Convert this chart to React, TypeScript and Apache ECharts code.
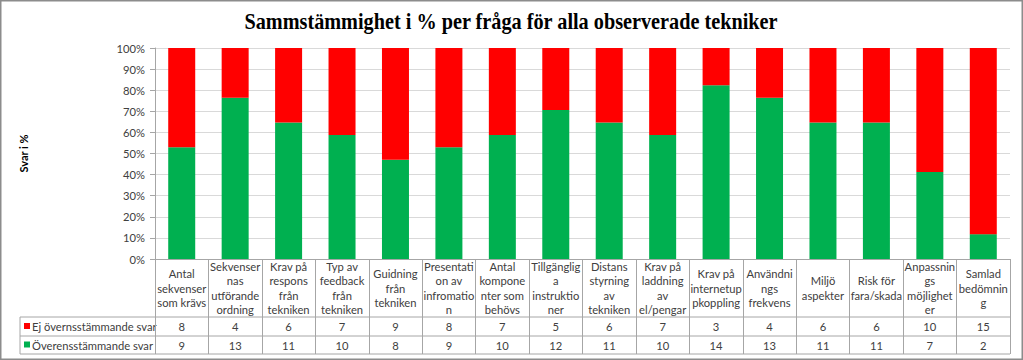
import React, { useEffect, useRef } from "react";
import * as echarts from "echarts";

const chartTitle = "Sammstämmighet i % per fråga för alla observerade tekniker";
const yAxisTitle = "Svar i %";
const categories = [
  "Antal\nsekvenser\nsom krävs",
  "Sekvenser\nnas\nutförande\nordning",
  "Krav på\nrespons\nfrån\ntekniken",
  "Typ av\nfeedback\nfrån\ntekniken",
  "Guidning\nfrån\ntekniken",
  "Presentati\non av\ninfromatio\nn",
  "Antal\nkompone\nnter som\nbehövs",
  "Tillgänglig\na\ninstruktio\nner",
  "Distans\nstyrning\nav\ntekniken",
  "Krav på\nladdning\nav\nel/pengar",
  "Krav på\ninternetup\npkoppling",
  "Användni\nngs\nfrekvens",
  "Miljö\naspekter",
  "Risk för\nfara/skada",
  "Anpassnin\ngs\nmöjlighet\ner",
  "Samlad\nbedömnin\ng",
];
const seriesNames = ["Ej övernsstämmande svar", "Överensstämmande svar"];
const ejCounts = [8, 4, 6, 7, 9, 8, 7, 5, 6, 7, 3, 4, 6, 6, 10, 15];
const overensCounts = [9, 13, 11, 10, 8, 9, 10, 12, 11, 10, 14, 13, 11, 11, 7, 2];

export default function App() {
  const ref = useRef<HTMLDivElement>(null);
  useEffect(() => {
    document.body.style.margin = "0";
    const chart = echarts.init(ref.current!, null, { renderer: "svg" });
    const totals = ejCounts.map((v, i) => v + overensCounts[i]);
    const pctOk = overensCounts.map((v, i) => (v / totals[i]) * 100);
    const pctEj = ejCounts.map((v, i) => (v / totals[i]) * 100);
    const font = "Lato, 'Noto Sans', sans-serif";
    const txt = "#404040";
    const border = "#a6a6a6";
    const fs = 11.2;
    const L = 155, R = 1010, T = 48, B = 259;
    const tableLeft = 20;
    const rows = [317, 336, 354];
    const labelBase = {
      interval: 0,
      verticalAlign: "middle" as const,
      fontSize: fs,
      color: txt,
      fontFamily: font,
      hideOverlap: false,
    };
    const hLines = rows.map((y) => ({
      type: "line",
      shape: { x1: tableLeft, y1: y, x2: R, y2: y },
      style: { stroke: border, lineWidth: 1 },
      silent: true,
    }));
    chart.setOption({
      animation: false,
      backgroundColor: "#fff",
      grid: { left: L, right: 1023 - R, top: T, bottom: 360 - B, containLabel: false },
      xAxis: [
        {
          type: "category",
          data: categories,
          position: "bottom",
          axisLine: { show: true, lineStyle: { color: border } },
          axisTick: { show: true, length: rows[2] - B, interval: 0, lineStyle: { color: border } },
          axisLabel: { ...labelBase, margin: 29, lineHeight: 14.5 },
        },
        {
          type: "category",
          data: ejCounts.map(String),
          position: "bottom",
          offset: 0,
          axisLine: { show: false },
          axisTick: { show: false },
          axisLabel: { ...labelBase, margin: (rows[0] + rows[1]) / 2 - B },
        },
        {
          type: "category",
          data: overensCounts.map(String),
          position: "bottom",
          offset: 0,
          axisLine: { show: false },
          axisTick: { show: false },
          axisLabel: { ...labelBase, margin: (rows[1] + rows[2]) / 2 - B },
        },
      ],
      yAxis: {
        type: "value",
        min: 0,
        max: 100,
        interval: 10,
        axisLine: { show: true, lineStyle: { color: border } },
        axisTick: { show: true, length: 5, lineStyle: { color: border } },
        axisLabel: { formatter: "{value}%", margin: 10, fontSize: fs, color: txt, fontFamily: font },
        splitLine: { show: true, lineStyle: { color: "#d9d9d9" } },
        name: yAxisTitle,
        nameLocation: "middle",
        nameGap: L - 29,
        nameRotate: 90,
        nameTextStyle: { fontWeight: "bold", fontSize: 11, fontFamily: font, color: "#000" },
      },
      series: [
        {
          name: seriesNames[1],
          type: "bar",
          stack: "total",
          data: pctOk,
          barWidth: 27,
          itemStyle: { color: "#00B050" },
        },
        {
          name: seriesNames[0],
          type: "bar",
          stack: "total",
          data: pctEj,
          barWidth: 27,
          itemStyle: { color: "#FF0000" },
        },
      ],
      graphic: [
        {
          type: "rect",
          shape: { x: 0.75, y: 0.75, width: 1021.5, height: 358.5 },
          style: { fill: "none", stroke: "#8c8c8c", lineWidth: 1.5 },
          silent: true,
        },
        {
          type: "text",
          x: 511,
          y: 22,
          scaleX: 0.88,
          style: {
            text: chartTitle,
            fontFamily: "'Liberation Serif', 'Times New Roman', serif",
            fontWeight: "bold",
            fontSize: 23,
            fill: "#000",
            align: "center",
            verticalAlign: "middle",
            textAlign: "center",
            textVerticalAlign: "middle",
          },
        },
        ...hLines,
        {
          type: "line",
          shape: { x1: tableLeft, y1: rows[0], x2: tableLeft, y2: rows[2] },
          style: { stroke: border, lineWidth: 1 },
          silent: true,
        },
        {
          type: "rect",
          shape: { x: 24, y: (rows[0] + rows[1]) / 2 - 3.5, width: 6, height: 6 },
          style: { fill: "#FF0000" },
        },
        {
          type: "rect",
          shape: { x: 24, y: (rows[1] + rows[2]) / 2 - 3.5, width: 6, height: 6 },
          style: { fill: "#00B050" },
        },
        {
          type: "text",
          x: 32,
          y: (rows[0] + rows[1]) / 2,
          style: {
            text: seriesNames[0],
            fontSize: fs,
            fontFamily: font,
            fill: txt,
            verticalAlign: "middle",
            textVerticalAlign: "middle",
          },
        },
        {
          type: "text",
          x: 32,
          y: (rows[1] + rows[2]) / 2,
          style: {
            text: seriesNames[1],
            fontSize: fs,
            fontFamily: font,
            fill: txt,
            verticalAlign: "middle",
            textVerticalAlign: "middle",
          },
        },
      ],
    });
    return () => chart.dispose();
  }, []);
  return <div ref={ref} style={{ width: 1023, height: 360 }} />;
}
